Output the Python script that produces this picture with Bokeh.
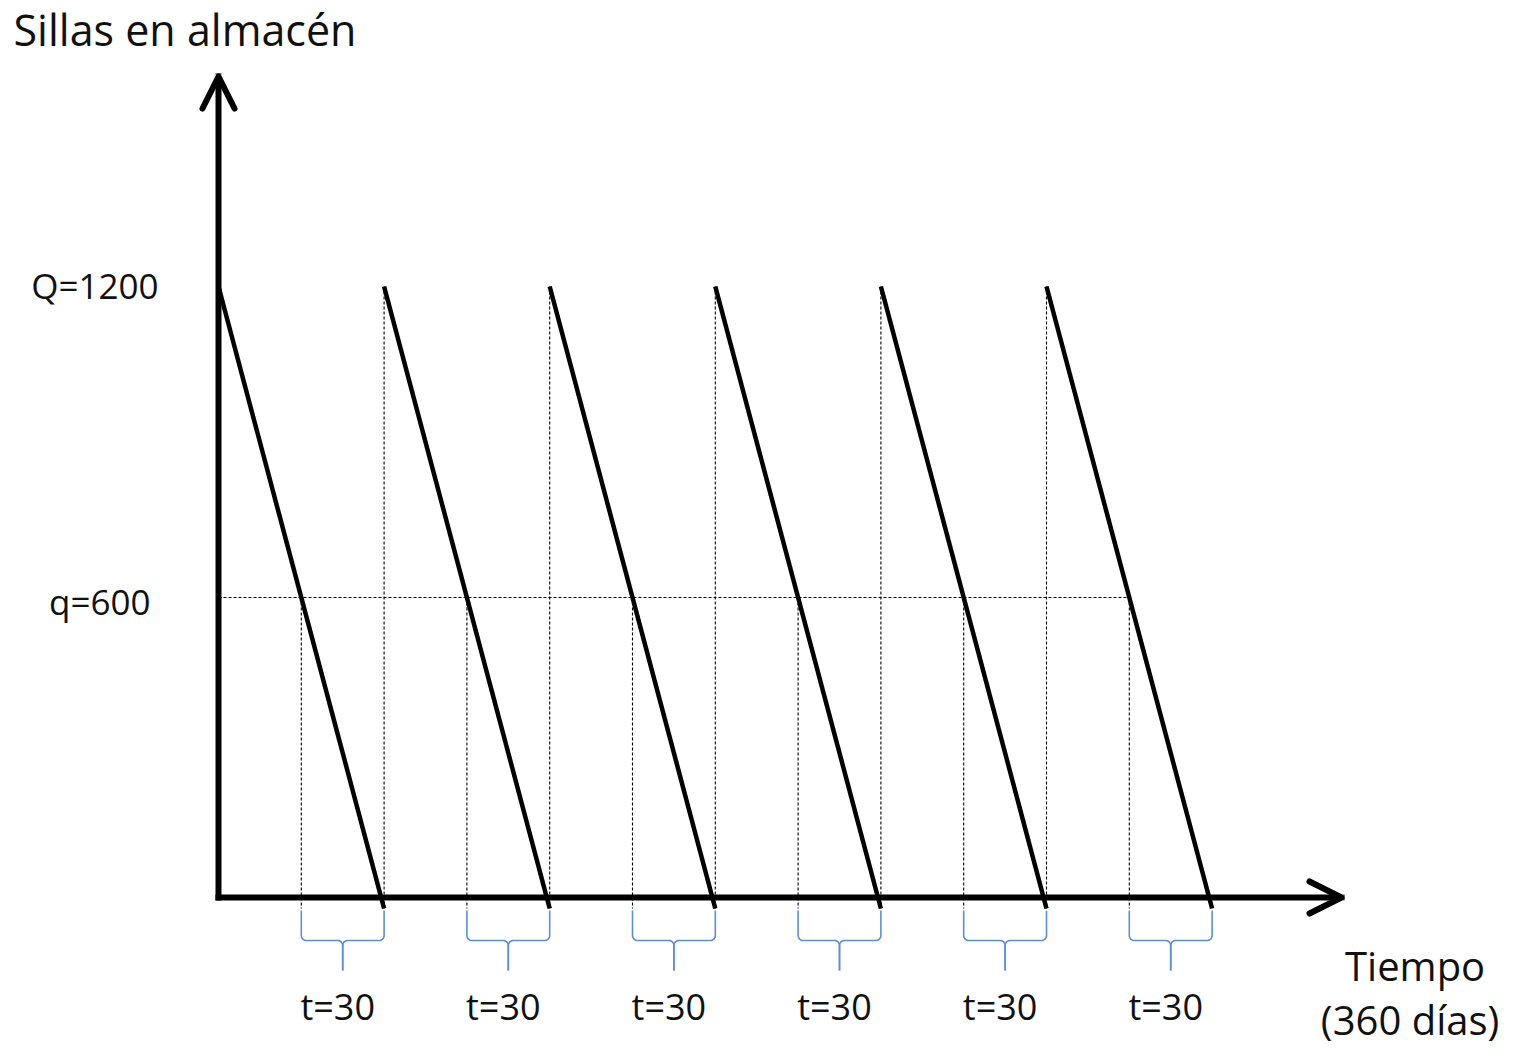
import numpy as np
from bokeh.plotting import figure
from bokeh.models import Range1d, Arrow, OpenHead
from bokeh.core.properties import value
from bokeh.embed import file_html
from bokeh.resources import INLINE

# ---- data ----
Q = 1200
q = 600
cycle_starts = [0, 60, 120, 180, 240, 300]
cycle_ends = [60, 120, 180, 240, 300, 360]
reorder_times = [30, 90, 150, 210, 270, 330]
t_labels = ["t=30", "t=30", "t=30", "t=30", "t=30", "t=30"]
level_labels = ["Q=1200", "q=600"]
level_values = [Q, q]
y_title = "Sillas en almacén"
x_title_lines = ["Tiempo", "(360 días)"]
horizon = 360

# ---- layout ----
W, H = 1515, 1049
PX_X = 2.76
PX_Y = 0.5183
X0, X1 = -218 / PX_X, (W - 218) / PX_X
Y0, Y1 = -(H - 908) / PX_Y, 908 / PX_Y


def dx(px):
    return px / PX_X


def dy(px):
    return px / PX_Y


FONT = value("Open Sans")
TXT = "#111111"

p = figure(width=W, height=H, x_range=Range1d(X0, X1), y_range=Range1d(Y0, Y1),
           output_backend="svg", toolbar_location=None, min_border=0,
           x_axis_location=None, y_axis_location=None)
p.grid.visible = False
p.outline_line_color = None
p.background_fill_color = "white"

dash = dict(line_color="black", line_width=1.1, line_dash="3 2")
# vertical dashed at each replenishment
vx = cycle_starts[1:]
p.segment(x0=vx, y0=[Q] * len(vx), x1=vx, y1=[0] * len(vx), **dash)
# vertical dashed at each reorder point
p.segment(x0=reorder_times, y0=[q] * len(reorder_times), x1=reorder_times,
          y1=[0] * len(reorder_times), **dash)
# horizontal dashed at reorder level
p.segment(x0=[cycle_starts[0]], y0=[q], x1=[reorder_times[-1]], y1=[q], **dash)

# inventory sawtooth
p.segment(x0=cycle_starts, y0=[Q] * len(cycle_starts), x1=cycle_ends,
          y1=[0] * len(cycle_ends), line_color="black", line_width=4.5)

# braces
bx, by = [], []
ytop, ymid, ybot = -dy(2), -dy(32), -dy(62)
rx, ry = dx(5), dy(5)
for a, b in zip(reorder_times, cycle_ends):
    m = (a + b) / 2
    for side in (1, -1):
        L = a if side == 1 else b
        th1 = np.linspace(np.pi, 1.5 * np.pi, 8)
        cx1, cy1 = L + side * rx, ymid + ry
        x1 = list(cx1 - side * rx * np.cos(th1 - np.pi))
        y1 = list(cy1 + ry * np.sin(th1))
        th2 = np.linspace(0.5 * np.pi, 0, 8)
        cx2, cy2 = m - side * rx, ymid - ry
        x2 = list(cx2 + side * rx * np.cos(th2))
        y2 = list(cy2 + ry * np.sin(th2))
        bx.append([L] + x1 + x2 + [m])
        by.append([ytop] + y1 + y2 + [ybot])
p.multi_line(xs=bx, ys=by, line_color="#5f8fd0", line_width=1.6)

# axes with arrows
AXIS_Y = dy(11)
X_TIP = dx(1341 - 218)
Y_TIP = dy(908 - 76)
p.add_layout(Arrow(x_start=0, y_start=AXIS_Y, x_end=X_TIP, y_end=AXIS_Y,
                   line_width=6, line_color="black", line_cap="square",
                   end=OpenHead(size=32, line_width=6, line_color="black",
                                line_cap="round", line_join="round")))
p.add_layout(Arrow(x_start=0, y_start=AXIS_Y, x_end=0, y_end=Y_TIP,
                   line_width=6, line_color="black", line_cap="square",
                   end=OpenHead(size=32, line_width=6, line_color="black",
                                line_cap="round", line_join="round")))

# texts
p.text(x=[0, 0], y=level_values, text=level_labels, text_align="right",
       text_baseline="alphabetic", x_offset=[-60, -68], y_offset=[-1, 4],
       text_font=FONT, text_font_size="35px", text_color=TXT)
p.text(x=[(a + b) / 2 for a, b in zip(reorder_times, cycle_ends)], y=[0] * 6,
       text=t_labels, text_align="center", text_baseline="alphabetic",
       y_offset=98, x_offset=-5, text_font=FONT, text_font_size="36px", text_color=TXT)
p.text(x=[horizon, horizon], y=[0, 0], text=x_title_lines, text_align="center",
       text_baseline="alphabetic", x_offset=[203, 198], y_offset=[57, 111],
       text_font=FONT, text_font_size="40px", text_color=TXT)
p.text(x=[0], y=[Y_TIP], text=[y_title], text_align="left",
       text_baseline="alphabetic", x_offset=-205, y_offset=-47,
       text_font=FONT, text_font_size="43px", text_color=TXT)

open("out.html", "w").write(file_html(p, INLINE))
